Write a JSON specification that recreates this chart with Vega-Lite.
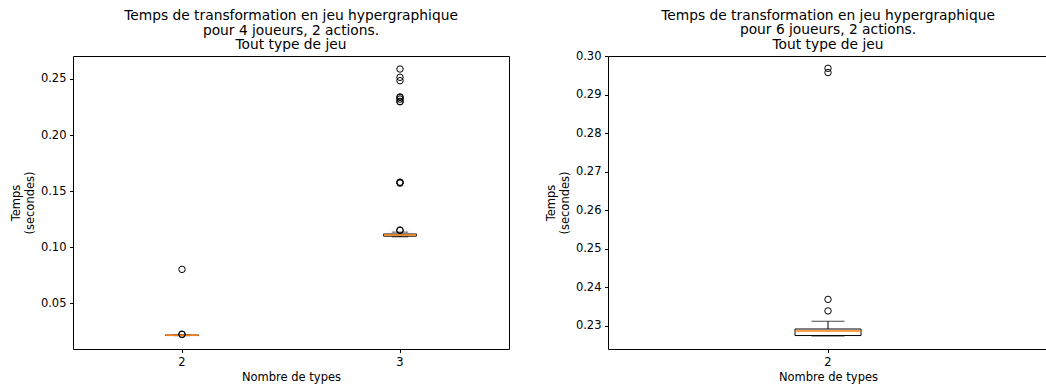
{
  "$schema": "https://vega.github.io/schema/vega-lite/v6.json",
  "background": "white",
  "padding": {"left": 10, "top": 8, "right": 0, "bottom": 0},
  "bounds": "flush",
  "spacing": 99,
  "datasets": {
    "box4": [
      {"type": "2", "lower": 0.0212, "q1": 0.0213, "median": 0.0215, "q3": 0.0217, "upper": 0.0219},
      {"type": "3", "lower": 0.1093, "q1": 0.1099, "median": 0.1110, "q3": 0.1118, "upper": 0.1135}
    ],
    "out4": [
      {"type": "2", "value": 0.0222},
      {"type": "2", "value": 0.0225},
      {"type": "2", "value": 0.0803},
      {"type": "3", "value": 0.1150},
      {"type": "3", "value": 0.1153},
      {"type": "3", "value": 0.1572},
      {"type": "3", "value": 0.1577},
      {"type": "3", "value": 0.1580},
      {"type": "3", "value": 0.2297},
      {"type": "3", "value": 0.2300},
      {"type": "3", "value": 0.2321},
      {"type": "3", "value": 0.2335},
      {"type": "3", "value": 0.2340},
      {"type": "3", "value": 0.2485},
      {"type": "3", "value": 0.2515},
      {"type": "3", "value": 0.2589}
    ],
    "box6": [
      {"type": "2", "lower": 0.2273, "q1": 0.2274, "median": 0.2286, "q3": 0.2291, "upper": 0.2311}
    ],
    "out6": [
      {"type": "2", "value": 0.2338},
      {"type": "2", "value": 0.2368},
      {"type": "2", "value": 0.2958},
      {"type": "2", "value": 0.2969}
    ]
  },
  "config": {
    "font": "DejaVu Sans",
    "view": {"stroke": "#000000", "strokeWidth": 1},
    "axis": {
      "domain": false,
      "grid": false,
      "labelFont": "DejaVu Sans",
      "labelFontSize": 11.5,
      "labelColor": "#000000",
      "titleFont": "DejaVu Sans",
      "titleFontSize": 11.5,
      "titleFontWeight": "normal",
      "titleColor": "#000000",
      "tickColor": "#000000",
      "tickSize": 3.5,
      "labelPadding": 3.5
    },
    "title": {
      "font": "DejaVu Sans",
      "fontSize": 13.8,
      "fontWeight": "normal",
      "color": "#000000",
      "anchor": "middle",
      "frame": "group",
      "lineHeight": 14.5,
      "offset": 4
    }
  },
  "hconcat": [
    {
      "width": 436,
      "height": 293,
      "title": {"text": ["Temps de transformation en jeu hypergraphique", "pour 4 joueurs, 2 actions.", "Tout type de jeu"]},
      "encoding": {
        "x": {
          "field": "type", "type": "nominal", "sort": "ascending",
          "scale": {"type": "band", "paddingInner": 0, "paddingOuter": 0},
          "axis": {"title": "Nombre de types", "labelAngle": 0, "titlePadding": 4}
        }
      },
      "layer": [
        {
          "data": {"name": "box4"},
          "mark": {"type": "rule", "color": "#000000", "strokeWidth": 1},
          "encoding": {
            "y": {"field": "lower", "type": "quantitative",
                  "scale": {"domain": [0.0093, 0.2705], "nice": false, "zero": false},
                  "axis": {"title": ["Temps", "(secondes)"], "values": [0.05, 0.10, 0.15, 0.20, 0.25], "format": ".2f", "titlePadding": 5}},
            "y2": {"field": "q1"}
          }
        },
        {
          "data": {"name": "box4"},
          "mark": {"type": "rule", "color": "#000000", "strokeWidth": 1},
          "encoding": {
            "y": {"field": "q3", "type": "quantitative"},
            "y2": {"field": "upper"}
          }
        },
        {
          "data": {"name": "box4"},
          "mark": {"type": "tick", "color": "#000000", "size": 16.5, "thickness": 1},
          "encoding": {"y": {"field": "lower", "type": "quantitative"}}
        },
        {
          "data": {"name": "box4"},
          "mark": {"type": "tick", "color": "#000000", "size": 16.5, "thickness": 1},
          "encoding": {"y": {"field": "upper", "type": "quantitative"}}
        },
        {
          "data": {"name": "box4"},
          "mark": {"type": "bar", "size": 33, "fill": "white", "fillOpacity": 0, "stroke": "#000000", "strokeWidth": 1},
          "encoding": {
            "y": {"field": "q1", "type": "quantitative"},
            "y2": {"field": "q3"}
          }
        },
        {
          "data": {"name": "box4"},
          "mark": {"type": "tick", "color": "#ff7f0e", "size": 33, "thickness": 1.5, "opacity": 1},
          "encoding": {"y": {"field": "median", "type": "quantitative"}}
        },
        {
          "data": {"name": "out4"},
          "mark": {"type": "point", "shape": "circle", "filled": false, "stroke": "#000000", "strokeWidth": 1, "size": 42, "opacity": 1},
          "encoding": {"y": {"field": "value", "type": "quantitative"}}
        }
      ]
    },
    {
      "width": 440,
      "height": 293,
      "title": {"text": ["Temps de transformation en jeu hypergraphique", "pour 6 joueurs, 2 actions.", "Tout type de jeu"], "offset": -1},
      "encoding": {
        "x": {
          "field": "type", "type": "nominal", "sort": "ascending",
          "scale": {"type": "band", "paddingInner": 0, "paddingOuter": 0},
          "axis": {"title": "Nombre de types", "labelAngle": 0, "titlePadding": 4}
        }
      },
      "layer": [
        {
          "data": {"name": "box6"},
          "mark": {"type": "rule", "color": "#000000", "strokeWidth": 1},
          "encoding": {
            "y": {"field": "lower", "type": "quantitative",
                  "scale": {"domain": [0.2239, 0.3001], "nice": false, "zero": false},
                  "axis": {"title": ["Temps", "(secondes)"], "values": [0.23, 0.24, 0.25, 0.26, 0.27, 0.28, 0.29, 0.30], "format": ".2f", "titlePadding": 5}},
            "y2": {"field": "q1"}
          }
        },
        {
          "data": {"name": "box6"},
          "mark": {"type": "rule", "color": "#000000", "strokeWidth": 1},
          "encoding": {
            "y": {"field": "q3", "type": "quantitative"},
            "y2": {"field": "upper"}
          }
        },
        {
          "data": {"name": "box6"},
          "mark": {"type": "tick", "color": "#000000", "size": 33, "thickness": 1},
          "encoding": {"y": {"field": "lower", "type": "quantitative"}}
        },
        {
          "data": {"name": "box6"},
          "mark": {"type": "tick", "color": "#000000", "size": 33, "thickness": 1},
          "encoding": {"y": {"field": "upper", "type": "quantitative"}}
        },
        {
          "data": {"name": "box6"},
          "mark": {"type": "bar", "size": 66, "fill": "white", "fillOpacity": 0, "stroke": "#000000", "strokeWidth": 1},
          "encoding": {
            "y": {"field": "q1", "type": "quantitative"},
            "y2": {"field": "q3"}
          }
        },
        {
          "data": {"name": "box6"},
          "mark": {"type": "tick", "color": "#ff7f0e", "size": 66, "thickness": 1.5, "opacity": 1},
          "encoding": {"y": {"field": "median", "type": "quantitative"}}
        },
        {
          "data": {"name": "out6"},
          "mark": {"type": "point", "shape": "circle", "filled": false, "stroke": "#000000", "strokeWidth": 1, "size": 42, "opacity": 1},
          "encoding": {"y": {"field": "value", "type": "quantitative"}}
        }
      ]
    }
  ]
}
